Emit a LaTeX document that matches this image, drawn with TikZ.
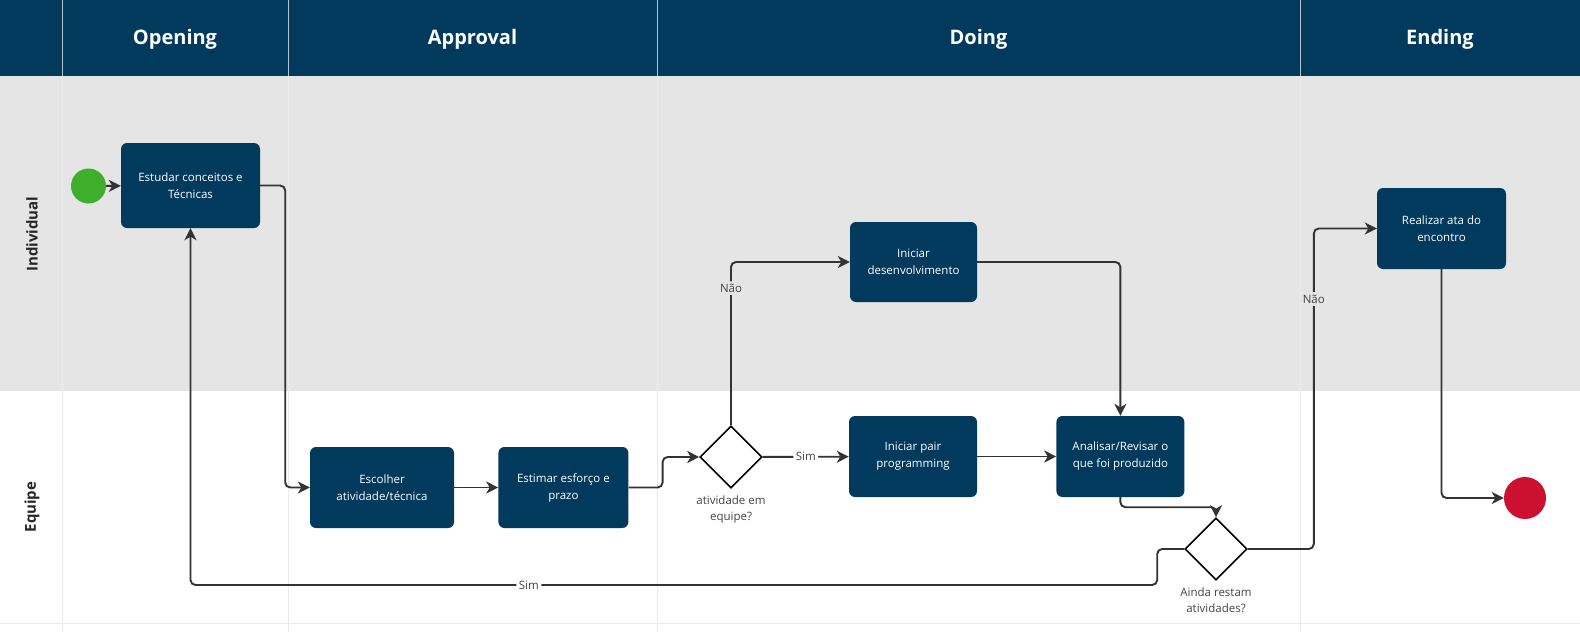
\documentclass[tikz,border=0pt]{standalone}
\usepackage{fontspec}
\setmainfont{Open Sans}
\usetikzlibrary{positioning, arrows.meta, shapes.geometric, calc}
\definecolor{navy}{HTML}{023A5E}
\definecolor{lanegray}{HTML}{E5E5E5}
\definecolor{gridline}{HTML}{EBEBEB}
\definecolor{linegray}{HTML}{333333}
\definecolor{txtgray}{HTML}{444444}
\definecolor{startgreen}{HTML}{3FAE2A}
\definecolor{endred}{HTML}{CC1030}

\begin{document}
\begin{tikzpicture}[
  x=1pt, y=-1pt,
  task/.style={
    draw=none, fill=navy, rounded corners=6pt,
    minimum height=81pt, inner sep=2pt, align=center,
    font=\fontsize{11.5}{17}\selectfont, text=white,
  },
  gate/.style={
    diamond, draw=black, fill=white, line width=1.6pt,
    minimum width=62pt, minimum height=62pt, inner sep=0pt,
  },
  event/.style={circle, draw=none, fill=#1, inner sep=0pt},
  arr/.style={-{Stealth[length=12pt, width=12pt, inset=3.5pt]}, line width=1.9pt, linegray, rounded corners=5pt},
  flowlabel/.style={fill=#1, inner sep=2.5pt, font=\fontsize{11.5}{14}\selectfont, text=txtgray},
  gatelabel/.style={align=center, font=\fontsize{11.5}{16.5}\selectfont, text=txtgray},
  heading/.style={font=\fontsize{20}{24}\selectfont\bfseries, text=white},
  lanename/.style={rotate=90, font=\fontsize{15}{18}\selectfont\bfseries, text=black!85},
]
\useasboundingbox (0,0) rectangle (1580,632);

% === LANES ===
\fill[white] (0,0) rectangle (1580,632);
\fill[lanegray] (0,76) rectangle (1580,391);
\fill[navy] (0,0) rectangle (1580,76);
\foreach \x in {62.5, 288, 657, 1300} {
  \draw[gridline, line width=1pt] (\x,76) -- (\x,632);
  \draw[white!70!navy, line width=1pt] (\x,0) -- (\x,76);
}
\draw[gridline, line width=1pt] (0,623) -- (1580,623);

% phase headings
\foreach \name/\x in {Opening/175, Approval/472.5, Doing/978.5, Ending/1440}
  \node[heading] (head\name) at (\x,39) {\name};

% lane names
\node[lanename] (laneind) at (32,234) {Individual};
\node[lanename] (laneeq) at (32,507) {Equipe};

% === TASKS ===
\node[event=startgreen, minimum size=35pt] (start) at (88.5,186) {};
\node[task, minimum width=139pt, minimum height=85pt] (estudar) at (190.5,185.5) {Estudar conceitos e\\Técnicas};
\node[task, minimum width=144pt] (escolher) at (382,487.5) {Escolher\\atividade/técnica};
\node[task, minimum width=130pt, right=44pt of escolher] (estimar) {Estimar esforço e\\prazo};

\node[gate] (dec1) at (731,457) {};
\node[gatelabel, below=3pt of dec1] (dec1txt) {atividade em\\equipe?};

\node[task, minimum width=127pt, minimum height=80pt] (desenv) at (913.5,262) {Iniciar\\desenvolvimento};
\node[task, minimum width=128pt] (pair) at (913,456.5) {Iniciar pair\\programming};
\node[task, minimum width=128pt, right=79pt of pair] (analisar) {Analisar/Revisar o\\que foi produzido};

\node[gate] (dec2) at (1216,549) {};
\node[gatelabel, below=3pt of dec2] (dec2txt) {Ainda restam\\atividades?};

\node[task, minimum width=129pt] (realizar) at (1441.5,228.5) {Realizar ata do\\encontro};
\node[event=endred, minimum size=42pt] (end) at (1525,498) {};

% === FLOW ===
\draw[arr] (start) -- (estudar);
\draw[arr] (estudar.east) -- ++(25,0) |- (escolher.west);
\draw[arr] (escolher) -- (estimar);
\draw[arr] (estimar.east) -- ++(34,0) |- (dec1.west);
\draw[arr] (dec1) -- node[flowlabel=white] {Sim} (pair);
\draw[arr] (dec1) |- node[flowlabel=lanegray, pos=0.42] {Não} (desenv);
\draw[arr] (desenv) -| (analisar);
\draw[arr] (pair) -- (analisar);
\draw[arr] (analisar.south) -- ++(0,10) -| (dec2.north);

% loop back / finish
\draw[arr] (dec2.west) -- ++(-27,0) -- ++(0,36) -| node[flowlabel=white, pos=0.325] {Sim} (estudar.south);
\draw[arr] (dec2.east) -- ++(66,0) |- node[flowlabel=lanegray, pos=0.39] {Não} (realizar.west);
\draw[arr] (realizar) |- (end);

\end{tikzpicture}
\end{document}
